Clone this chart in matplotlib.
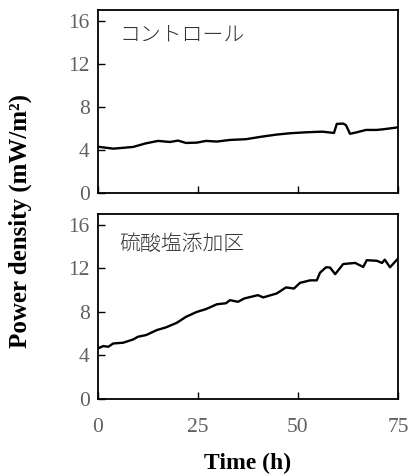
import matplotlib
matplotlib.use('Agg')
import matplotlib.pyplot as plt

# Control (コントロール)
ctrl_t = [0, 3.8, 8.8, 11.8, 15, 18, 20, 22, 24.7, 27, 29.7, 33, 37, 41, 44.7,
          48, 52, 56, 59, 59.7, 61.3, 62, 63, 64.7, 67, 69.7, 71.3, 75]
ctrl_p = [4.3, 4.12, 4.28, 4.6, 4.84, 4.74, 4.87, 4.65, 4.68, 4.84, 4.78, 4.93, 5.0, 5.24, 5.43,
          5.55, 5.64, 5.7, 5.58, 6.42, 6.45, 6.3, 5.5, 5.64, 5.86, 5.86, 5.92, 6.1]

# Sulfate-added (硫酸塩添加区)
sulf_t = [0, 1.3, 2.6, 3.8, 6.3, 8.8, 10, 12, 14.7, 17, 19.7, 22, 24.7, 27, 29.7,
          32, 33, 35, 36.6, 40, 41.3, 44.7, 47, 49, 50.5, 53, 54.7, 55.5, 57, 58,
          59.3, 61.3, 64.3, 66.3, 67.2, 69.7, 71, 71.7, 73, 75]
sulf_p = [4.65, 4.86, 4.8, 5.1, 5.17, 5.47, 5.72, 5.87, 6.33, 6.58, 7.0, 7.55, 8.0, 8.26, 8.7,
          8.8, 9.08, 8.93, 9.24, 9.54, 9.33, 9.7, 10.25, 10.15, 10.67, 10.9, 10.9, 11.6, 12.1, 12.08,
          11.47, 12.4, 12.5, 12.13, 12.75, 12.7, 12.5, 12.8, 12.1, 12.9]

yticks = [0, 4, 8, 12, 16]
xticks = [0, 25, 50, 75]

serif = 'Liberation Serif'
jp = ['Noto Sans CJK JP', 'DejaVu Sans']

fig = plt.figure(figsize=(4.09, 4.76), dpi=100)
ax1 = fig.add_axes([0.2396, 0.5945, 0.7335, 0.3845])
ax2 = fig.add_axes([0.2396, 0.1618, 0.7335, 0.3887])

panels = [(ax1, ctrl_t, ctrl_p, 'コントロール', 0.865),
          (ax2, sulf_t, sulf_p, '硫酸塩添加区', 0.84)]

for ax, t, p, name, ty in panels:
    ax.plot(t, p, color='black', lw=1.7)
    ax.set_xlim(0, 75)
    ax.set_ylim(0, 17)
    ax.set_yticks(yticks)
    ax.set_xticks(xticks)
    ax.tick_params(direction='in', length=5, width=1, colors='black',
                   labelcolor='#606060', labelsize=15.5, pad=6)
    for lab in ax.get_yticklabels() + ax.get_xticklabels():
        lab.set_family(serif)
    for s in ax.spines.values():
        s.set_linewidth(1.3)
    ax.text(0.07, ty, name, transform=ax.transAxes, family=jp,
            fontsize=15, color='#333333', fontweight='light', va='center')

ax1.tick_params(labelbottom=False)
ax2.tick_params(axis='x', pad=14)

ax2.set_xlabel('Time (h)', family=serif, fontweight='bold', fontsize=17, labelpad=11)
fig.text(0.05, 0.536, 'Power density (mW/m²)', family=serif, fontweight='bold',
         fontsize=18, rotation=90, ha='center', va='center')

fig.savefig('out.png', dpi=100)
